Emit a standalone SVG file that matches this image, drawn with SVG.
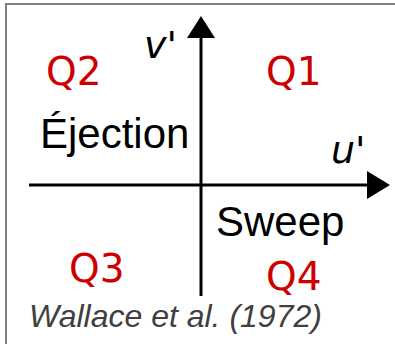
<svg xmlns="http://www.w3.org/2000/svg" width="395" height="344" viewBox="0 0 395 344">
<style>
.q{font-family:"DejaVu Sans",sans-serif;font-size:39px;fill:#cc0000}
.lab{font-family:"Liberation Sans",Arial,sans-serif;font-size:42px;fill:#000}
.var{font-family:"DejaVu Sans",sans-serif;font-style:oblique;font-size:38px;fill:#000}
.ref{font-family:"Liberation Sans",Arial,sans-serif;font-style:italic;font-size:32px;fill:#404040}
.ax{stroke:#000;stroke-width:3;fill:none}
</style>
<rect x="6" y="4" width="400" height="350" fill="#fff" stroke="#808080" stroke-width="2"/>
<g id="connectors">
<line class="ax" x1="201" y1="296" x2="201" y2="36"/>
<polygon points="201,16 187,38 215,38" fill="#000"/>
<line class="ax" x1="29" y1="185" x2="369" y2="185"/>
<polygon points="390,185 367,171 367,199" fill="#000"/>
</g>
<g id="q2"><text class="q" x="46" y="85">Q2</text></g>
<g id="q1"><text class="q" x="266" y="85">Q1</text></g>
<g id="q3"><text class="q" x="69" y="282">Q3</text></g>
<g id="q4"><text class="q" x="266" y="290">Q4</text></g>
<g id="ejection"><text class="lab" x="40" y="148">Éjection</text></g>
<g id="sweep"><text class="lab" x="216" y="236">Sweep</text></g>
<g id="vprime"><text class="var" x="144" y="58">v'</text></g>
<g id="uprime"><text class="var" x="331" y="163">u'</text></g>
<g id="ref"><text class="ref" x="29" y="327">Wallace et al. (1972)</text></g>
</svg>
